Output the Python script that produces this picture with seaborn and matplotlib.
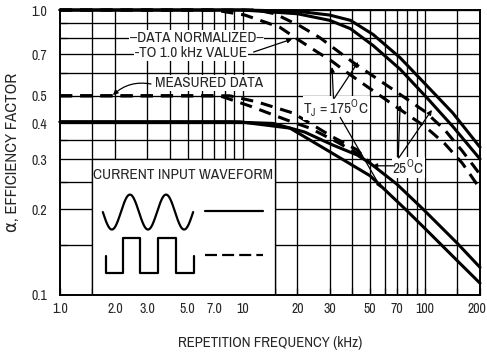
import numpy as np
import pandas as pd
import matplotlib
matplotlib.use('Agg')
import matplotlib.pyplot as plt
import seaborn as sns
from matplotlib import font_manager
from matplotlib.patches import Rectangle
from matplotlib.ticker import FixedLocator, FixedFormatter, NullFormatter

# --- data (frequency in kHz, efficiency factor) ---
# normalized to 1.0 kHz value
norm_solid_a_f = [1, 10, 20, 30, 39, 52, 73, 103, 142, 200]
norm_solid_a_y = [1.0, 1.0, 0.99, 0.96, 0.92, 0.82, 0.68, 0.54, 0.435, 0.33]
norm_solid_b_f = [1, 10, 20, 30, 39, 52, 73, 103, 142, 200]
norm_solid_b_y = [1.0, 1.0, 0.97, 0.92, 0.86, 0.75, 0.62, 0.49, 0.39, 0.30]
norm_dash_a_f = [1, 12, 15, 20.6, 26.5, 33, 41, 68.5, 100, 128, 160, 200]
norm_dash_a_y = [1.0, 1.0, 0.97, 0.88, 0.80, 0.72, 0.65, 0.52, 0.44, 0.38, 0.32, 0.265]
norm_dash_b_f = [1, 7, 10.3, 16, 20, 25, 31, 36.5, 68.5, 100, 128, 160, 200]
norm_dash_b_y = [1.0, 1.0, 0.96, 0.87, 0.79, 0.72, 0.66, 0.61, 0.46, 0.39, 0.34, 0.29, 0.236]

# measured data
meas_solid_a_f = [1, 8.5, 14.7, 21.9, 31.2, 42.4, 50, 70, 97.6, 150, 200]
meas_solid_a_y = [0.405, 0.405, 0.40, 0.373, 0.336, 0.31, 0.29, 0.245, 0.20, 0.152, 0.125]
meas_solid_b_f = [1, 9.7, 18.2, 30.1, 50, 78, 100, 150, 200]
meas_solid_b_y = [0.405, 0.405, 0.385, 0.318, 0.262, 0.20, 0.171, 0.132, 0.11]
meas_dash_a_f = [1, 8.5, 12, 18.9, 31.3, 42.4, 50]
meas_dash_a_y = [0.5, 0.5, 0.476, 0.435, 0.358, 0.323, 0.29]
meas_dash_b_f = [1, 7.5, 11, 17.5, 23.4, 33, 44, 50]
meas_dash_b_y = [0.5, 0.5, 0.46, 0.411, 0.385, 0.344, 0.31, 0.29]

x_grid = [1.5, 2, 3, 4, 5, 6, 7, 8, 9, 10, 15, 20, 30, 40, 50, 60, 70, 80, 90, 100, 150, 200]
y_grid = [0.15, 0.2, 0.25, 0.3, 0.35, 0.4, 0.5, 0.6, 0.7, 0.8, 0.9, 1.0]
x_ticks = [1, 2, 3, 5, 7, 10, 20, 30, 50, 70, 100, 200]
x_labels = ['1.0', '2.0', '3.0', '5.0', '7.0', '10', '20', '30', '50', '70', '100', '200']
y_ticks = [0.1, 0.2, 0.3, 0.4, 0.5, 0.7, 1.0]
y_labels = ['0.1', '0.2', '0.3', '0.4', '0.5', '0.7', '1.0']

sns.set_style('white')
names = {f.name for f in font_manager.fontManager.ttflist}
narrow = sorted(n for n in names if 'Narrow' in n or 'Condensed' in n)
font = narrow[0] if narrow else 'Liberation Sans'
plt.rcParams['font.family'] = [font, 'DejaVu Sans']
plt.rcParams['mathtext.fontset'] = 'custom'
plt.rcParams['mathtext.rm'] = font

fig = plt.figure(figsize=(4.87, 3.53), dpi=100)
ax = fig.add_axes([60 / 487, 1 - 295 / 353, 420 / 487, 285 / 353])
ax.set_xscale('log')
ax.set_yscale('log')
ax.set_xlim(1, 200)
ax.set_ylim(0.1, 1.0)

# grid drawn by hand so the waveform box can sit over it
for x in x_grid:
    ax.axvline(x, color='black', lw=0.95, zorder=1)
for y in y_grid:
    ax.axhline(y, color='black', lw=0.95, zorder=1)

dash = (0, (4, 2.6))
curves = [
    (norm_solid_a_f, norm_solid_a_y, '-'),
    (norm_solid_b_f, norm_solid_b_y, '-'),
    (norm_dash_a_f, norm_dash_a_y, dash),
    (norm_dash_b_f, norm_dash_b_y, dash),
    (meas_solid_a_f, meas_solid_a_y, '-'),
    (meas_solid_b_f, meas_solid_b_y, '-'),
    (meas_dash_a_f, meas_dash_a_y, dash),
    (meas_dash_b_f, meas_dash_b_y, dash),
]
for fx, fy, ls in curves:
    df = pd.DataFrame({'freq': fx, 'eff': fy})
    sns.lineplot(data=df, x='freq', y='eff', ax=ax, color='black', lw=2.2,
                 linestyle=ls, estimator=None, legend=False, zorder=3, clip_on=False)

# current input waveform box
ax.add_patch(Rectangle((1.5, 0.1), 13.5, 0.2, facecolor='white', edgecolor='black',
                       lw=0.95, zorder=2))
ax.text(0.079, 0.421, 'CURRENT INPUT WAVEFORM', transform=ax.transAxes, fontsize=11,
        va='center', ha='left', zorder=4)
t = np.linspace(0, 5 * np.pi, 200)
ax.plot(0.102 + (0.317 - 0.102) * t / t[-1], 0.291 - 0.0614 * np.sin(t),
        transform=ax.transAxes, color='black', lw=1.6, zorder=4)
sq_x = [0.110, 0.110, 0.150, 0.150, 0.190, 0.190, 0.233, 0.233, 0.276, 0.276, 0.319, 0.319]
sq_y = [0.137, 0.077, 0.077, 0.200, 0.200, 0.077, 0.077, 0.200, 0.200, 0.077, 0.077, 0.137]
ax.plot(sq_x, sq_y, transform=ax.transAxes, color='black', lw=1.6, zorder=4)
ax.plot([0.345, 0.483], [0.295, 0.295], transform=ax.transAxes, color='black', lw=1.6, zorder=4)
ax.plot([0.345, 0.483], [0.140, 0.140], transform=ax.transAxes, color='black', lw=1.6,
        linestyle=(0, (5.4, 2.3)), zorder=4)

box = dict(facecolor='white', edgecolor='none', pad=0.5)
arrow = dict(arrowstyle='-|>', color='black', lw=0.9, mutation_scale=7, shrinkA=0, shrinkB=0)

ax.text(5.6, 0.797, '–DATA NORMALIZED–', fontsize=11, ha='center', va='center', bbox=box, zorder=4)
ax.text(5.2, 0.706, '-TO 1.0 kHz VALUE', fontsize=11, ha='center', va='center', bbox=box, zorder=4)
ax.annotate('', xy=(18.7, 0.791), xytext=(11.5, 0.712), arrowprops=arrow, zorder=4)

ax.text(6.55, 0.554, 'MEASURED DATA', fontsize=11, ha='center', va='center', bbox=box, zorder=4)
ax.annotate('', xy=(1.95, 0.503), xytext=(3.15, 0.55),
            arrowprops=dict(arrow, connectionstyle='arc3,rad=0.25'), zorder=4)

ax.text(32.6, 0.453, r'T$_\mathregular{J}$ = 175$^\mathregular{O}$C', fontsize=11,
        ha='center', va='center', bbox=box, zorder=4)
ax.annotate('', xy=(30.9, 0.631), xytext=(31.5, 0.49), arrowprops=arrow, zorder=4)
ax.annotate('', xy=(43, 0.657), xytext=(31.8, 0.49), arrowprops=arrow, zorder=4)
ax.annotate('', xy=(57.5, 0.237), xytext=(34.3, 0.42), arrowprops=arrow, zorder=4)

ax.text(81, 0.281, r'25$^\mathregular{O}$C', fontsize=11, ha='center', va='center',
        bbox=box, zorder=4)
ax.annotate('', xy=(73, 0.464), xytext=(71.3, 0.303), arrowprops=arrow, zorder=4)
ax.annotate('', xy=(109, 0.446), xytext=(71.8, 0.303), arrowprops=arrow, zorder=4)
ax.annotate('', xy=(51.4, 0.284), xytext=(67, 0.284), arrowprops=arrow, zorder=4)

# ticks and labels (last x label placed by hand so it stays inside the figure)
ax.xaxis.set_major_locator(FixedLocator(x_ticks))
ax.xaxis.set_major_formatter(FixedFormatter(x_labels[:-1] + ['']))
ax.annotate(x_labels[-1], xy=(x_ticks[-1], 0.1), xytext=(-2.5, -5), textcoords='offset points',
            ha='center', va='top', fontsize=10, annotation_clip=False)
ax.xaxis.set_minor_locator(FixedLocator(x_grid))
ax.xaxis.set_minor_formatter(NullFormatter())
ax.yaxis.set_major_locator(FixedLocator(y_ticks))
ax.yaxis.set_major_formatter(FixedFormatter(y_labels))
ax.yaxis.set_minor_locator(FixedLocator(y_grid))
ax.yaxis.set_minor_formatter(NullFormatter())
ax.tick_params(which='both', direction='in', length=5, width=0.9, color='black',
               labelsize=10, pad=5, bottom=True, left=True, top=False, right=False)
ax.tick_params(axis='y', which='major', length=0, pad=9)
for s in ax.spines.values():
    s.set_color('black')
    s.set_linewidth(1.4)
    s.set_zorder(5)

ax.set_xlabel('REPETITION FREQUENCY (kHz)', fontsize=10.7)
ax.xaxis.set_label_coords(0.5, -0.145)
ax.set_ylabel('α, EFFICIENCY FACTOR', fontsize=12)
ax.yaxis.set_label_coords(-0.095, 0.5)

fig.savefig('out.png', dpi=100)
